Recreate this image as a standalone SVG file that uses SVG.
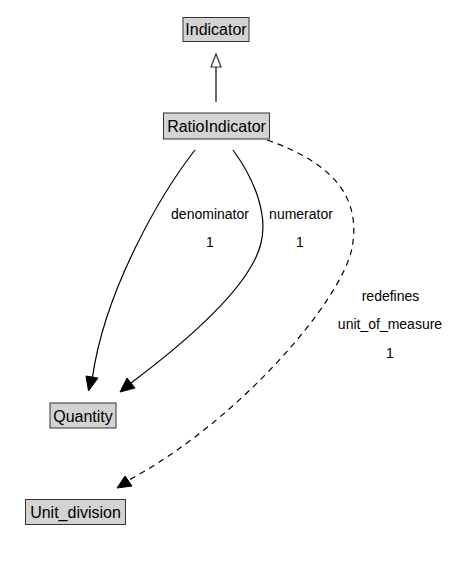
<svg xmlns="http://www.w3.org/2000/svg" width="455" height="563" viewBox="0 0 455 563">
<style>
.node rect{fill:#d3d3d3;stroke:#333;stroke-width:1}
.node text{font-family:"Liberation Sans",Arial,sans-serif;font-size:16px;fill:#000;text-anchor:middle}
.edge{fill:none;stroke:#000;stroke-width:1.2}
.lbl{font-family:"Liberation Sans",Arial,sans-serif;font-size:14px;fill:#000;text-anchor:middle}
.head{fill:#000;stroke:#000;stroke-width:1}
</style>
<rect width="455" height="563" fill="#fff"/>
<g id="edges">
<path class="edge" d="M216,102 L216,67" stroke="#333"/>
<polygon points="216,54 221,67 211,67" fill="#fff" stroke="#333" stroke-width="1.2"/>
<path class="edge" d="M195,150 C160,195 105,290 92.5,377"/>
<polygon class="head" points="88.5,391 86,376 98,378"/>
<path class="edge" d="M233,150 C255,180 268,215 261,243 C250,290 175,350 131,383"/>
<polygon class="head" points="120,392 127,378 135,388"/>
<path class="edge" stroke-dasharray="6,5" d="M267,140 C330,162 362,195 352,248 C342,300 240,420 129,480"/>
<polygon class="head" points="117,488 125,476 132,486"/>
<text class="lbl" x="210" y="218.5">denominator</text>
<text class="lbl" x="210" y="247">1</text>
<text class="lbl" x="301" y="218.5">numerator</text>
<text class="lbl" x="300" y="247">1</text>
<text class="lbl" x="390.5" y="301">redefines</text>
<text class="lbl" x="390" y="329">unit_of_measure</text>
<text class="lbl" x="390" y="357.5">1</text>
</g>
<g id="Indicator" class="node"><rect x="183" y="17.5" width="66" height="24"/><text x="216" y="35">Indicator</text></g>
<g id="RatioIndicator" class="node"><rect x="163.5" y="113" width="106" height="26"/><text x="216.5" y="132">RatioIndicator</text></g>
<g id="Quantity" class="node"><rect x="50" y="403" width="66" height="25"/><text x="83" y="421.5">Quantity</text></g>
<g id="Unit_division" class="node"><rect x="25.5" y="499.5" width="100" height="25"/><text x="75.5" y="518">Unit_division</text></g>
</svg>
